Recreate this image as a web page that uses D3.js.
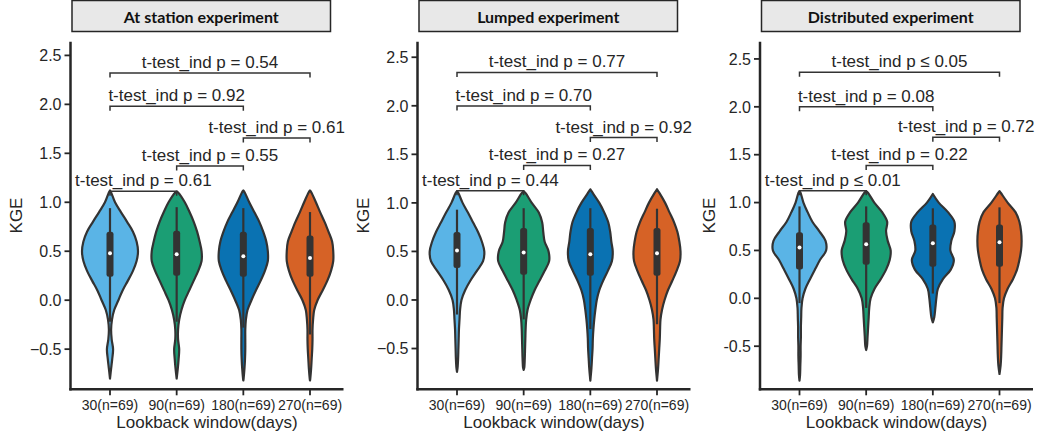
<!DOCTYPE html>
<html>
<head>
<meta charset="utf-8">
<script src="https://cdn.jsdelivr.net/npm/d3@7"></script>
<style>
  body { margin: 0; background: #fff; }
  text { font-family: "Liberation Sans", Arial, sans-serif; fill: #262626; }
</style>
</head>
<body>
<div id="chart"></div>
<script>
const experiments = ["At station experiment", "Lumped experiment", "Distributed experiment"];
const windows = ["30(n=69)", "90(n=69)", "180(n=69)", "270(n=69)"];
const colors = ["#5AB4E6", "#1B9E74", "#0A72B2", "#D66226"];

// KGE range shown in each panel
const yDomains = [[-0.91, 2.64], [-0.92, 2.66], [-0.95, 2.68]];
const yTicks = [-0.5, 0, 0.5, 1, 1.5, 2, 2.5];

const kgeGrid = [1.1, 1.0, 0.9, 0.8, 0.7, 0.6, 0.5, 0.4, 0.3, 0.2, 0.1, 0.0, -0.1, -0.2, -0.3, -0.4, -0.5, -0.6, -0.7, -0.8];

// relative density at each kgeGrid level, one row per lookback window
const densStation = [
  [.04, .18, .39, .61, .82, .95, 1, .95, .82, .64, .45, .30, .15, .07, .04, .06, .11, .08, .04, 0],
  [.05, .29, .46, .61, .73, .82, .89, .89, .77, .61, .45, .29, .17, .09, .05, .05, .09, .07, .04, 0],
  [.05, .21, .39, .57, .71, .82, .875, .875, .77, .62, .45, .29, .15, .09, .07, .07, .07, .06, .04, .01],
  [.05, .21, .36, .52, .66, .79, .83, .83, .75, .62, .45, .27, .15, .11, .09, .09, .08, .06, .04, .01]
];
const densLumped = [
  [.05, .20, .39, .57, .75, .89, .975, .93, .71, .48, .29, .16, .11, .09, .07, .06, .05, .04, .02, 0],
  [.07, .29, .54, .66, .70, .75, .89, .91, .75, .57, .39, .25, .14, .09, .07, .06, .05, .04, .02, 0],
  [.09, .32, .50, .64, .71, .75, .80, .77, .625, .46, .32, .23, .18, .14, .11, .09, .08, .06, .04, .01],
  [.09, .29, .45, .61, .73, .80, .84, .82, .70, .55, .39, .27, .18, .125, .11, .10, .08, .06, .04, .01]
];
const densDistributed = [
  [.04, .14, .29, .46, .71, .93, .95, .73, .55, .375, .21, .11, .07, .06, .05, .05, .04, .04, .03, .02],
  [.07, .29, .57, .75, .71, .77, .875, .84, .71, .52, .30, .16, .11, .09, .07, .05, .03, 0, 0, 0],
  [0, .21, .54, .77, .77, .66, .625, .75, .64, .36, .18, .125, .09, .05, 0, 0, 0, 0, 0, 0],
  [.05, .29, .57, .71, .77, .79, .77, .71, .625, .48, .29, .16, .11, .10, .09, .08, .07, .06, .04, 0]
];

// lowest and highest KGE of each violin
const extStation = [[-0.80, 1.12], [-0.80, 1.11], [-0.82, 1.12], [-0.82, 1.12]];
const extLumped = [[-0.74, 1.12], [-0.72, 1.12], [-0.83, 1.14], [-0.83, 1.14]];
const extDistributed = [[-0.86, 1.12], [-0.54, 1.12], [-0.25, 1.09], [-0.79, 1.12]];

// inner box: [whisker low, q1, median, q3, whisker high]
const boxStation = [[-0.22, 0.24, 0.48, 0.70, 0.94], [-0.22, 0.25, 0.47, 0.71, 0.95], [-0.28, 0.24, 0.45, 0.70, 0.94], [-0.35, 0.24, 0.43, 0.66, 0.90]];
const boxLumped = [[-0.15, 0.33, 0.51, 0.70, 0.93], [-0.20, 0.26, 0.49, 0.74, 0.945], [-0.30, 0.25, 0.47, 0.74, 0.945], [-0.25, 0.25, 0.48, 0.74, 0.94]];
const boxDistributed = [[-0.05, 0.30, 0.53, 0.69, 0.96], [-0.10, 0.35, 0.565, 0.795, 0.96], [0.05, 0.33, 0.575, 0.77, 0.94], [-0.05, 0.33, 0.585, 0.77, 0.95]];

// t-test comparisons (pairs of windows), p labels and bracket height (KGE)
const pairs = [[0, 1], [1, 2], [2, 3], [0, 2], [0, 3]];
const pStation = ["p = 0.61", "p = 0.55", "p = 0.61", "p = 0.92", "p = 0.54"];
const pLumped = ["p = 0.44", "p = 0.27", "p = 0.92", "p = 0.70", "p = 0.77"];
const pDistributed = ["p \u2264 0.01", "p = 0.22", "p = 0.72", "p = 0.08", "p \u2264 0.05"];
const levelsStation = [1.112, 1.37, 1.656, 1.98, 2.32];
const levelsLumped = [1.124, 1.385, 1.673, 1.998, 2.343];
const levelsDistributed = [1.123, 1.388, 1.681, 2.0, 2.36];

const panels = [
  { dens: densStation, ext: extStation, box: boxStation, p: pStation, levels: levelsStation },
  { dens: densLumped, ext: extLumped, box: boxLumped, p: pLumped, levels: levelsLumped },
  { dens: densDistributed, ext: extDistributed, box: boxDistributed, p: pDistributed, levels: levelsDistributed }
];

const width = 1042, height = 437;
const plotTop = 41.7, plotBottom = 389.3;
const panelLeft = [70.5, 417.5, 760];
const axisColor = "#262626";
const edge = "#333";

const svg = d3.select("#chart").append("svg")
  .attr("width", width)
  .attr("height", height);

// max density -> half width of the widest violin
const widthScale = d3.scaleLinear().domain([0, 1]).range([0, 28]);

panels.forEach((panel, pi) => {
  const left = panelLeft[pi];
  const g = svg.append("g");

  const x = d3.scalePoint().domain(windows).range([left + 39.5, left + 239.5]);
  const y = d3.scaleLinear().domain(yDomains[pi]).range([plotBottom, plotTop]);

  // facet title
  g.append("rect")
    .attr("x", left + 1.5).attr("y", 0.5)
    .attr("width", 258.5).attr("height", 31)
    .attr("fill", "#e8e8e8").attr("stroke", axisColor).attr("stroke-width", 1.5);
  g.append("text")
    .attr("x", left + 130.75).attr("y", 16)
    .attr("text-anchor", "middle").attr("dominant-baseline", "central")
    .style("font-family", "Lato, 'Open Sans', sans-serif")
    .style("font-weight", 700).style("font-size", "16px").style("fill", "#111")
    .text(experiments[pi]);

  // violins
  windows.forEach((w, i) => {
    const cx = x(w);
    const [lo, hi] = panel.ext[i];
    const pts = [{ v: hi, d: 0 }];
    kgeGrid.forEach((v, k) => {
      if (v < hi && v > lo && panel.dens[i][k] > 0) pts.push({ v: v, d: panel.dens[i][k] });
    });
    pts.push({ v: lo, d: 0 });

    const area = d3.area()
      .y(d => y(d.v))
      .x0(d => cx - widthScale(d.d))
      .x1(d => cx + widthScale(d.d))
      .curve(d3.curveCatmullRom);

    g.append("path")
      .attr("d", area(pts))
      .attr("fill", colors[i])
      .attr("stroke", edge)
      .attr("stroke-width", 2.2)
      .attr("stroke-linejoin", "round");

    // inner box plot
    const [wlo, q1, med, q3, whi] = panel.box[i];
    g.append("line")
      .attr("x1", cx).attr("x2", cx)
      .attr("y1", y(wlo)).attr("y2", y(whi))
      .attr("stroke", edge).attr("stroke-width", 2.2);
    g.append("rect")
      .attr("x", cx - 3.5).attr("width", 7)
      .attr("y", y(q3)).attr("height", y(q1) - y(q3))
      .attr("rx", 2.5)
      .attr("fill", edge);
    g.append("circle")
      .attr("cx", cx).attr("cy", y(med)).attr("r", 2)
      .attr("fill", "#fff");
  });

  // significance brackets
  pairs.forEach(([a, b], k) => {
    const x1 = x(windows[a]), x2 = x(windows[b]);
    const yl = y(panel.levels[k]);
    g.append("path")
      .attr("d", `M${x1},${yl + 4.5}V${yl}H${x2}V${yl + 4.5}`)
      .attr("fill", "none").attr("stroke", edge).attr("stroke-width", 1.5);
    g.append("text")
      .attr("x", (x1 + x2) / 2).attr("y", yl - 5)
      .attr("text-anchor", "middle")
      .style("font-size", "17px")
      .text("t-test_ind " + panel.p[k]);
  });

  // y axis
  const fmt = d3.format(".1f");
  g.append("line")
    .attr("x1", left).attr("x2", left)
    .attr("y1", plotTop).attr("y2", plotBottom + 1.2)
    .attr("stroke", axisColor).attr("stroke-width", 2.5);
  const yt = g.selectAll(".ytick").data(yTicks).join("g")
    .attr("transform", d => `translate(0,${y(d)})`);
  yt.append("line")
    .attr("x1", left - 6).attr("x2", left)
    .attr("stroke", axisColor).attr("stroke-width", 1.8);
  const ylabels = yt.append("text")
    .attr("x", left - 9).attr("dy", "0.36em")
    .attr("text-anchor", "end")
    .style("font-size", "16px")
    .text(d => pi === 2 ? fmt(d).replace("\u2212", "-") : fmt(d));

  let minX = left;
  ylabels.each(function() { minX = Math.min(minX, this.getBBox().x); });
  g.append("text")
    .attr("transform", `translate(${minX - 8},${(plotTop + plotBottom) / 2}) rotate(-90)`)
    .attr("text-anchor", "middle")
    .style("font-size", "17px")
    .text("KGE");

  // x axis
  g.append("line")
    .attr("x1", left - 1.2).attr("x2", left + 273)
    .attr("y1", plotBottom).attr("y2", plotBottom)
    .attr("stroke", axisColor).attr("stroke-width", 2.5);
  const xt = g.selectAll(".xtick").data(windows).join("g")
    .attr("transform", d => `translate(${x(d)},${plotBottom})`);
  xt.append("line")
    .attr("y1", 0).attr("y2", 6)
    .attr("stroke", axisColor).attr("stroke-width", 1.8);
  xt.append("text")
    .attr("y", 21).attr("text-anchor", "middle")
    .style("font-size", "14px")
    .text(d => d);
  g.append("text")
    .attr("x", left + 136.5).attr("y", 428)
    .attr("text-anchor", "middle")
    .style("font-size", "17px")
    .text("Lookback window(days)");
});
</script>
</body>
</html>
